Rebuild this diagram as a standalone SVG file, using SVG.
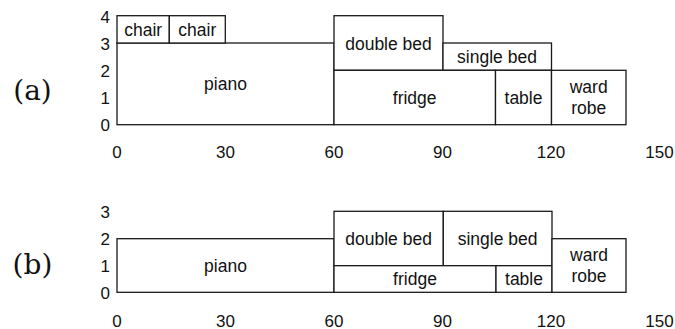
<svg xmlns="http://www.w3.org/2000/svg" width="675" height="329" viewBox="0 0 675 329">
<style>
.box{fill:#fff;stroke:#1a1a1a;stroke-width:1.3}
.lbl{font-family:"Liberation Sans",Arial,sans-serif;font-size:17.5px;fill:#111;text-anchor:middle}
.ax{font-family:"Liberation Sans",Arial,sans-serif;font-size:17px;fill:#111;text-anchor:middle}
.ay{font-family:"Liberation Sans",Arial,sans-serif;font-size:17px;fill:#111;text-anchor:end}
.cap{font-family:"DejaVu Serif","Liberation Serif",serif;font-size:28px;fill:#111;text-anchor:middle}
</style>
<rect width="675" height="329" fill="#fff"/>
<g id="panel-a">
  <text class="cap" x="32.5" y="100">(a)</text>
  <g id="a-axis-y">
    <text class="ay" x="110" y="23">4</text>
    <text class="ay" x="110" y="49.5">3</text>
    <text class="ay" x="110" y="76.5">2</text>
    <text class="ay" x="110" y="104">1</text>
    <text class="ay" x="110" y="131">0</text>
  </g>
  <g id="a-axis-x">
    <text class="ax" x="117" y="157.5">0</text>
    <text class="ax" x="225.5" y="157.5">30</text>
    <text class="ax" x="334" y="157.5">60</text>
    <text class="ax" x="442.5" y="157.5">90</text>
    <text class="ax" x="551" y="157.5">120</text>
    <text class="ax" x="659.5" y="157.5">150</text>
  </g>
  <g id="a-piano"><rect class="box" x="117" y="43" width="217" height="81.7"/><text class="lbl" x="225.5" y="90">piano</text></g>
  <g id="a-chair1"><rect class="box" x="117" y="15.7" width="52.3" height="27.3"/><text class="lbl" x="143.2" y="36">chair</text></g>
  <g id="a-chair2"><rect class="box" x="169.3" y="15.7" width="56" height="27.3"/><text class="lbl" x="197.3" y="36">chair</text></g>
  <g id="a-doublebed"><rect class="box" x="334" y="15.7" width="109" height="54.6"/><text class="lbl" x="388.5" y="49.5">double bed</text></g>
  <g id="a-singlebed"><rect class="box" x="443" y="43" width="108.5" height="27.3"/><text class="lbl" x="497" y="62.5">single bed</text></g>
  <g id="a-fridge"><rect class="box" x="334" y="70.3" width="161.5" height="54.4"/><text class="lbl" x="414.7" y="103.5">fridge</text></g>
  <g id="a-table"><rect class="box" x="495.5" y="70.3" width="56" height="54.4"/><text class="lbl" x="523.5" y="103.5">table</text></g>
  <g id="a-wardrobe"><rect class="box" x="551.5" y="70.3" width="74.5" height="54.4"/><text class="lbl" x="588.7" y="93">ward</text><text class="lbl" x="588.7" y="114">robe</text></g>
</g>
<g id="panel-b">
  <text class="cap" x="32.5" y="273.5">(b)</text>
  <g id="b-axis-y">
    <text class="ay" x="110" y="217.5">3</text>
    <text class="ay" x="110" y="244.5">2</text>
    <text class="ay" x="110" y="271.5">1</text>
    <text class="ay" x="110" y="298.5">0</text>
  </g>
  <g id="b-axis-x">
    <text class="ax" x="117" y="326.5">0</text>
    <text class="ax" x="225.5" y="326.5">30</text>
    <text class="ax" x="334" y="326.5">60</text>
    <text class="ax" x="442.5" y="326.5">90</text>
    <text class="ax" x="551" y="326.5">120</text>
    <text class="ax" x="659.5" y="326.5">150</text>
  </g>
  <g id="b-piano"><rect class="box" x="117" y="238.7" width="217" height="53.6"/><text class="lbl" x="225.5" y="271.5">piano</text></g>
  <g id="b-doublebed"><rect class="box" x="334" y="211.3" width="109.3" height="54.4"/><text class="lbl" x="388.6" y="244.5">double bed</text></g>
  <g id="b-singlebed"><rect class="box" x="443.3" y="211.3" width="108.7" height="54.4"/><text class="lbl" x="497.6" y="244.5">single bed</text></g>
  <g id="b-fridge"><rect class="box" x="334" y="265.7" width="162" height="26.6"/><text class="lbl" x="415" y="285">fridge</text></g>
  <g id="b-table"><rect class="box" x="496" y="265.7" width="56" height="26.6"/><text class="lbl" x="524" y="285">table</text></g>
  <g id="b-wardrobe"><rect class="box" x="552" y="238.7" width="74" height="53.6"/><text class="lbl" x="589" y="261">ward</text><text class="lbl" x="589" y="282">robe</text></g>
</g>
<g id="connectors"/>
</svg>
